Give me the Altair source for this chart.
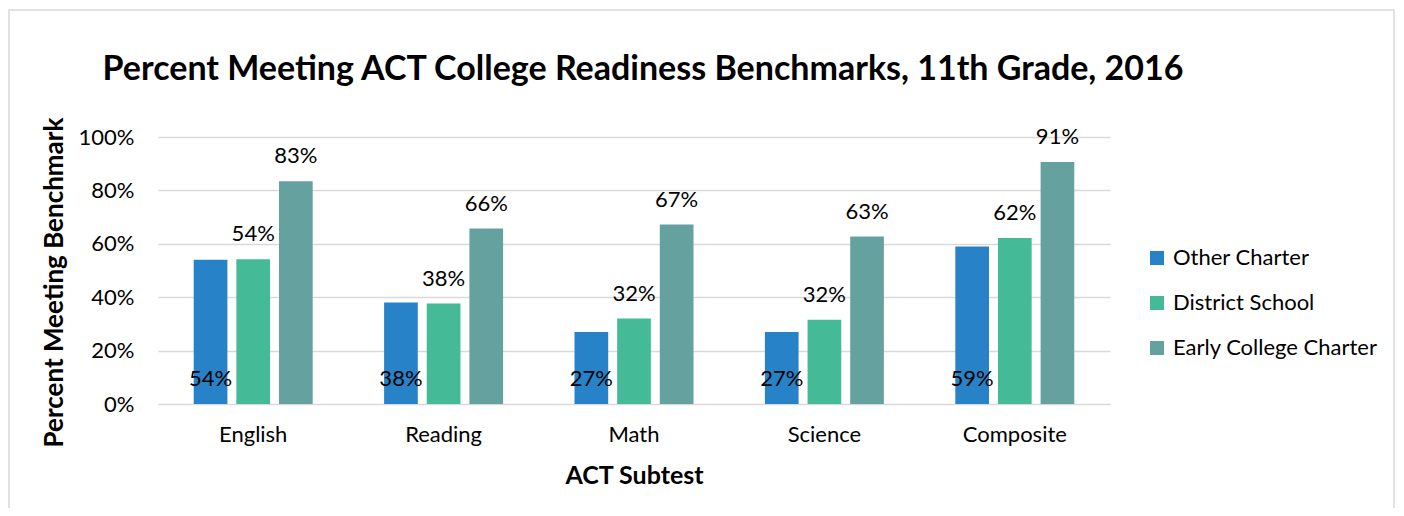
import altair as alt
import pandas as pd

subtests = ["English", "Reading", "Math", "Science", "Composite"]
other_charter = [0.54, 0.38, 0.27, 0.27, 0.59]
district_school = [0.542, 0.376, 0.32, 0.316, 0.622]
early_college = [0.834, 0.657, 0.672, 0.627, 0.906]
series = ["Other Charter", "District School", "Early College Charter"]
colors = ["#2882C7", "#44BA97", "#65A29F"]
chart_title = "Percent Meeting ACT College Readiness Benchmarks, 11th Grade, 2016"

rows = []
for name, vals in zip(series, [other_charter, district_school, early_college]):
    for s, v in zip(subtests, vals):
        rows.append({"Subtest": s, "Series": name, "Value": v})
df = pd.DataFrame(rows)

FONT = "Lato"

base = alt.Chart(df).encode(
    x=alt.X("Subtest:N", sort=subtests,
            scale=alt.Scale(paddingInner=0.375, paddingOuter=0.1875),
            axis=alt.Axis(title="ACT Subtest", labelAngle=0, labelFontSize=22,
                          labelPadding=20, titleFontSize=25, titleFontWeight="bold",
                          titlePadding=18, ticks=False, domain=False,
                          labelColor="#000", titleColor="#000")),
    xOffset=alt.XOffset("Series:N", sort=series,
                        scale=alt.Scale(paddingInner=0.21)),
)

bars = base.mark_bar().encode(
    y=alt.Y("Value:Q", scale=alt.Scale(domain=[0, 1]),
            axis=alt.Axis(format=".0%", values=[0, 0.2, 0.4, 0.6, 0.8, 1.0],
                          title="Percent Meeting Benchmark", labelFontSize=22,
                          labelPadding=24, titleFontSize=26, titleFontWeight="bold",
                          titlePadding=11, titleY=145, ticks=False, domain=False,
                          gridColor="#d9d9d9", gridWidth=1.5,
                          labelColor="#000", titleColor="#000")),
    color=alt.Color("Series:N", sort=series,
                    scale=alt.Scale(domain=series, range=colors),
                    legend=alt.Legend(title=None, orient="none", legendX=988, legendY=110,
                                      symbolType="square", symbolSize=196,
                                      symbolStrokeWidth=0, labelFontSize=22,
                                      rowPadding=23, labelColor="#000",
                                      labelOffset=5, labelLimit=0)),
)

labels = base.transform_calculate(
    LabelY="datum.Series == 'Other Charter' ? 0 : datum.Value"
).mark_text(fontSize=22, baseline="alphabetic", dy=-18, color="#000").encode(
    y=alt.Y("LabelY:Q"),
    text=alt.Text("Value:Q", format=".0%"),
)

title = alt.Chart(pd.DataFrame({"t": [chart_title]})).mark_text(
    fontSize=34, fontWeight="bold", color="#000", align="center", baseline="alphabetic"
).encode(x=alt.value(485), y=alt.value(-57), text="t:N")

border = alt.Chart(pd.DataFrame({"a": [0]})).mark_rect(
    fill=None, stroke="#d9d9d9", strokeWidth=1.5, clip=False
).encode(
    x=alt.value(-149), x2=alt.value(1236), y=alt.value(-127), y2=alt.value(420)
)

chart = alt.layer(border, bars, labels, title).properties(
    width=952, height=267,
    autosize=alt.AutoSizeParams(type="none"),
    padding={"left": 150, "top": 129, "right": 286, "bottom": 104},
).configure(font=FONT).configure_view(stroke=None)

chart.save("out.html", embed_options={"renderer": "svg", "actions": False})
